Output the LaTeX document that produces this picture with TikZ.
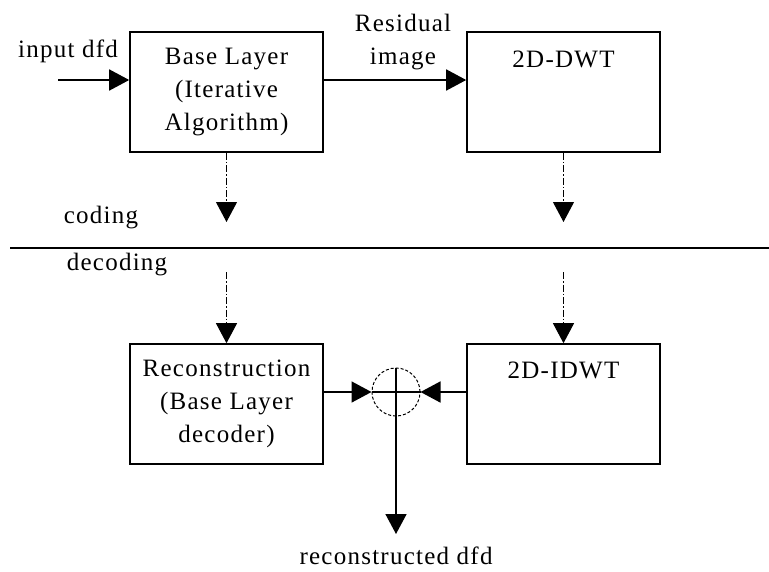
\documentclass[tikz,border=0pt]{standalone}
\usepackage{fontspec}
\setmainfont{Liberation Serif}[LetterSpace=5]
\usetikzlibrary{arrows.meta,positioning,calc}

\begin{document}
\begin{tikzpicture}[x=1pt,y=-1pt,font=\fontsize{25}{33}\selectfont,
	blk/.style={draw,line width=1.6pt,minimum width=193pt,minimum height=120pt,align=center,inner sep=0pt},
	txt/.style={inner sep=0pt,align=center},
	flow/.style={line width=1.6pt,-{Triangle[length=20pt,width=21pt]}},
	dflow/.style={line width=1pt,dash pattern=on 7pt off 2pt on 1.5pt off 2pt,-{Triangle[length=20pt,width=21pt]}}]
	\useasboundingbox (0,0) rectangle (769,571);
	% coding side
	\node[blk] (base) at (226.5,92) {Base Layer\\(Iterative\\Algorithm)};
	\node[blk] (dwt) at (563.5,92) {};
	\node[txt,anchor=north] (dwtlbl) at ($(dwt.north)+(0,20)$) {2D-DWT};
	\coordinate (in) at (58,80);
	\node[txt] (inlbl) at (68,51) {input dfd};
	\draw[flow] (in) -- (in -| base.west);
	\draw[flow] (base.east |- in) -- (dwt.west |- in);
	\node[txt] (resid) at (403,42) {Residual\\image};
	\coordinate (bcut) at (226.5,222);
	\coordinate (dcut) at (563.5,222);
	\draw[dflow] (base.south) -- (bcut);
	\draw[dflow] (dwt.south) -- (dcut);
	% divider
	\coordinate (ll) at (10,248);
	\coordinate (lr) at (769,248);
	\draw[line width=1.6pt] (ll) -- (lr);
	\node[txt] (codlbl) at (101,218) {coding};
	\node[txt] (declbl) at (117,265) {decoding};
	% decoding side
	\node[blk] (rec) at (226.5,404) {Reconstruction\\(Base Layer\\decoder)};
	\node[blk] (idwt) at (563.5,404) {};
	\node[txt,anchor=north] (idwtlbl) at ($(idwt.north)+(0,19)$) {2D-IDWT};
	\coordinate (btop) at (226.5,272);
	\coordinate (dtop) at (563.5,272);
	\draw[dflow] (btop) -- (rec.north);
	\draw[dflow] (dtop) -- (idwt.north);
	\node[draw,circle,minimum size=48pt,inner sep=0pt,line width=1pt,densely dashed] (sum) at (396,392) {};
	\draw[line width=1.6pt] (sum.west) -- (sum.east);
	\draw[flow] (rec.east |- sum) -- (sum.west);
	\draw[flow] (idwt.west |- sum) -- (sum.east);
	\coordinate (out) at (396,534);
	\draw[flow] (sum.north) -- (out);
	\node[txt,anchor=north] (outlbl) at ($(out)+(0,13)$) {reconstructed dfd};
\end{tikzpicture}
\end{document}
